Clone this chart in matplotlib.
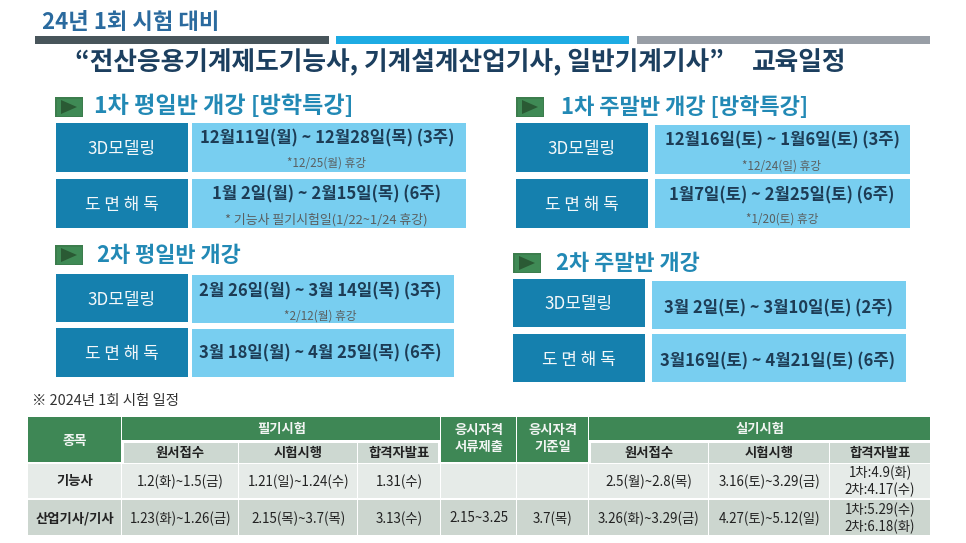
import matplotlib
matplotlib.use('Agg')
import matplotlib.pyplot as plt
from matplotlib.patches import Rectangle, Polygon

plt.rcParams['font.family'] = ['Noto Sans CJK KR', 'DejaVu Sans']

# text content
main_title = "24년 1회 시험 대비"
sub_title = "“전산응용기계제도기능사, 기계설계산업기사, 일반기계기사”"
sub_title2 = "교육일정"
subject_3d = "3D모델링"
subject_dwg = "도 면 해 독"

head_w1 = "1차 평일반 개강 [방학특강]"
dates_w1 = ["12월11일(월) ~ 12월28일(목) (3주)", "1월 2일(월) ~ 2월15일(목) (6주)"]
notes_w1 = ["*12/25(월) 휴강", "* 기능사 필기시험일(1/22~1/24 휴강)"]

head_w2 = "2차 평일반 개강"
dates_w2 = ["2월 26일(월) ~ 3월 14일(목) (3주)", "3월 18일(월) ~ 4월 25일(목) (6주)"]
notes_w2 = ["*2/12(월) 휴강", ""]

head_e1 = "1차 주말반 개강 [방학특강]"
dates_e1 = ["12월16일(토) ~ 1월6일(토) (3주)", "1월7일(토) ~ 2월25일(토) (6주)"]
notes_e1 = ["*12/24(일) 휴강", "*1/20(토) 휴강"]

head_e2 = "2차 주말반 개강"
dates_e2 = ["3월 2일(토) ~ 3월10일(토) (2주)", "3월16일(토) ~ 4월21일(토) (6주)"]

table_title = "※ 2024년 1회 시험 일정"
col_first = "종목"
group_written = "필기시험"
group_doc = "응시자격\n서류제출"
group_base = "응시자격\n기준일"
group_practical = "실기시험"
sub_cols = ["원서접수", "시험시행", "합격자발표"]
row_craft = ["기능사", "1.2(화)~1.5(금)", "1.21(일)~1.24(수)", "1.31(수)", "", "",
             "2.5(월)~2.8(목)", "3.16(토)~3.29(금)", "1차:4.9(화)\n2차:4.17(수)"]
row_eng = ["산업기사/기사", "1.23(화)~1.26(금)", "2.15(목)~3.7(목)", "3.13(수)", "2.15~3.25", "3.7(목)",
           "3.26(화)~3.29(금)", "4.27(토)~5.12(일)", "1차:5.29(수)\n2차:6.18(화)"]

# colours
DARK = '#1580ae'
LIGHT = '#78cef0'
GREEN = '#3e8755'
SUB = '#cdd8d1'
ROW1 = '#e6ebe8'
ROW2 = '#ccd6cf'

fig = plt.figure(figsize=(9.66, 5.43), dpi=100)
ax = fig.add_axes([0, 0, 1, 1])
ax.set_xlim(0, 966)
ax.set_ylim(543, 0)
ax.axis('off')


def box(x0, y0, x1, y1, color):
    ax.add_patch(Rectangle((x0, y0), x1 - x0, y1 - y0, facecolor=color, edgecolor='none'))


def label(x, y, s, size, color='#222222', weight='normal', ha='center', **kw):
    # the CJK font sits a little high with va center
    ax.text(x, y + 1.5, s, fontsize=size, color=color, fontweight=weight, ha=ha, va='center', **kw)


def icon(x, y):
    box(x, y, x + 28, y + 20, '#3c7d4d')
    box(x + 1.5, y + 1.5, x + 26.5, y + 18.5, '#3f8a55')
    ax.add_patch(Polygon([(x + 6, y + 3), (x + 6, y + 17), (x + 22, y + 10)], facecolor='#2a5a34', edgecolor='none'))


def block(xd0, xd1, yd0, yd1, xl0, xl1, yl0, yl1, subject, date, note, date_x, date_y, note_y, note_size=8.4):
    box(xd0, yd0, xd1, yd1, DARK)
    box(xl0, yl0, xl1, yl1, LIGHT)
    label((xd0 + xd1) / 2, (yd0 + yd1) / 2, subject, 12.2, color='#f4f8fa')
    label(date_x, date_y, date, 12.0, color='#1d3c55', weight='bold')
    if note:
        label(date_x, note_y, note, note_size, color='#5a5f60')


# top
label(42, 21, main_title, 16.0, color='#2a6a9e', weight='bold', ha='left')
box(35, 36, 329, 43.5, '#48555b')
box(336, 36, 629, 43.5, '#1dabe3')
box(637, 36, 930, 43.5, '#989ea6')
label(75, 61, sub_title, 18.5, color='#1c3f5f', weight='bold', ha='left')
label(752, 61, sub_title2, 18.5, color='#1c3f5f', weight='bold', ha='left')

# weekday side
icon(55, 97)
label(94, 105, head_w1, 16.6, color='#2289b5', weight='bold', ha='left')
block(56, 188, 123, 172, 192, 466, 123, 172, subject_3d, dates_w1[0], notes_w1[0], 327, 137, 162)
block(56, 188, 179, 228, 192, 466, 179, 228, subject_dwg, dates_w1[1], notes_w1[1], 326, 193, 218, 9.3)

icon(55, 245)
label(97, 254, head_w2, 15.8, color='#2289b5', weight='bold', ha='left')
block(56, 188, 274, 322, 192, 454, 275, 323, subject_3d, dates_w2[0], notes_w2[0], 320, 290, 315)
block(56, 188, 328, 377, 192, 454, 329, 377, subject_dwg, dates_w2[1], notes_w2[1], 320, 352, 0)

# weekend side
icon(516, 97)
label(561, 106, head_e1, 15.9, color='#2289b5', weight='bold', ha='left')
block(516, 648, 123, 172, 655, 910, 125, 174, subject_3d, dates_e1[0], notes_e1[0], 782, 139, 165)
block(516, 648, 179, 228, 655, 910, 179, 228, subject_dwg, dates_e1[1], notes_e1[1], 782, 194, 218)

icon(513, 253)
label(556, 262, head_e2, 15.8, color='#2289b5', weight='bold', ha='left')
block(513, 645, 279, 327, 652, 906, 281, 329, subject_3d, dates_e2[0], "", 778, 307, 0)
block(513, 645, 334, 382, 652, 906, 334, 382, subject_dwg, dates_e2[1], "", 778, 360, 0)

# exam table
col_x = [28, 122, 239, 358, 441, 517, 589, 709, 830, 930]
HEAD_TOP, HEAD_MID, SUB_TOP, SUB_BOT, R1_TOP, R1_BOT, R2_TOP, R2_BOT = 417, 440, 443, 462, 464, 498, 500, 535
GAP = 1.0
TSIZE = 9.6

label(32, 400, table_title, 10.4, color='#333333', ha='left')

box(col_x[0], HEAD_TOP, col_x[1] - GAP, SUB_BOT, GREEN)
label((col_x[0] + col_x[1]) / 2, 439, col_first, TSIZE, color='#f2f5f3', weight='bold')
box(col_x[1], HEAD_TOP, col_x[4] - GAP, HEAD_MID, GREEN)
label((col_x[1] + col_x[4]) / 2, 428, group_written, TSIZE, color='#f2f5f3', weight='bold')
box(col_x[4], HEAD_TOP, col_x[5] - GAP, SUB_BOT, GREEN)
label((col_x[4] + col_x[5]) / 2, 437, group_doc, TSIZE, color='#f2f5f3', weight='bold', linespacing=1.2)
box(col_x[5], HEAD_TOP, col_x[6] - GAP, SUB_BOT, GREEN)
label((col_x[5] + col_x[6]) / 2, 437, group_base, TSIZE, color='#f2f5f3', weight='bold', linespacing=1.2)
box(col_x[6], HEAD_TOP, col_x[9], HEAD_MID, GREEN)
label((col_x[6] + col_x[9]) / 2, 428, group_practical, TSIZE, color='#f2f5f3', weight='bold')

sub_idx = [1, 2, 3, 6, 7, 8]
for n, i in enumerate(sub_idx):
    right = col_x[i + 1] - GAP if i != 8 else col_x[9]
    box(col_x[i] + (2 if i in (1, 6) else 0), SUB_TOP, right - (2 if i == 3 else 0), SUB_BOT + 1, SUB)
    label((col_x[i] + col_x[i + 1]) / 2, 452, sub_cols[n % 3], TSIZE, color='#222222', weight='bold')

for i in range(9):
    right = col_x[i + 1] - GAP if i != 8 else col_x[9]
    box(col_x[i], R1_TOP, right, R1_BOT, ROW1)
    box(col_x[i], R2_TOP, right, R2_BOT, ROW2)
    fw = 'bold' if i == 0 else 'normal'
    label((col_x[i] + col_x[i + 1]) / 2, 480, row_craft[i], TSIZE, color='#222222', weight=fw, linespacing=1.25)
    label((col_x[i] + col_x[i + 1]) / 2, 517, row_eng[i], TSIZE, color='#222222', weight=fw, linespacing=1.25)

plt.savefig('out.png', dpi=100)
